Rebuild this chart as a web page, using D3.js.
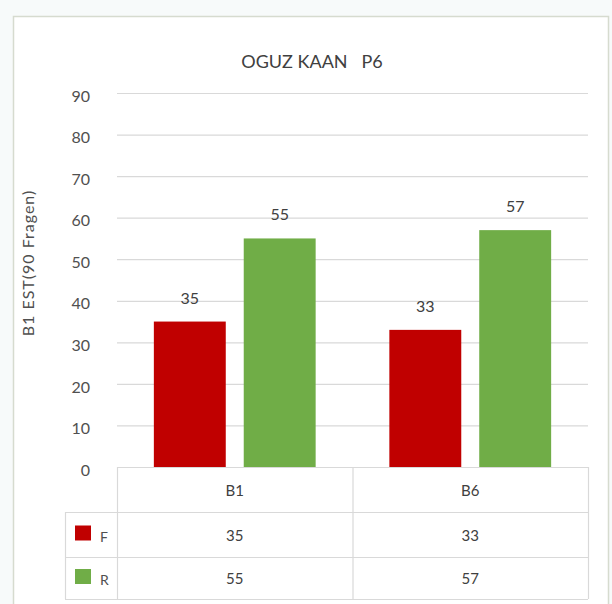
<!DOCTYPE html>
<html><head><meta charset="utf-8">
<script src="https://cdn.jsdelivr.net/npm/d3@7"></script>
<style>
html,body{margin:0;padding:0;background:#f7fafa;}
svg{display:block;}
text{font-family:Lato, "Open Sans", sans-serif;}
</style></head>
<body>
<script>
const categories = ["B1", "B6"];
const seriesNames = ["F", "R"];
const valuesF = [35, 33];
const valuesR = [55, 57];
const yTicks = [0, 10, 20, 30, 40, 50, 60, 70, 80, 90];
const title = "OGUZ KAAN   P6";
const yTitle = "B1 EST(90 Fragen)";
const colors = {F: "#C00000", R: "#70AD47"};

const series = [
  {name: seriesNames[0], values: valuesF},
  {name: seriesNames[1], values: valuesR}
];

const W = 612, H = 604;
const svg = d3.select("body").append("svg").attr("width", W).attr("height", H);

// chart frame
svg.append("rect").attr("x", 13.5).attr("y", 16.5).attr("width", 595).attr("height", 600)
  .attr("fill", "#fff").attr("stroke", "#d6dbcf").attr("stroke-width", 1.5);

const plotL = 117, plotR = 588, plotT = 93, plotB = 467;
const y = d3.scaleLinear().domain([0, 90]).range([plotB, plotT]);
const x0 = d3.scaleBand().domain(categories).range([plotL, plotR]);
const x1 = d3.scaleBand().domain(seriesNames).range([0, x0.bandwidth()]).paddingInner(0.2).paddingOuter(0.41);

// gridlines
svg.append("g").selectAll("line").data(yTicks.filter(d => d > 0)).join("line")
  .attr("x1", plotL).attr("x2", plotR)
  .attr("y1", d => y(d) + 0.5).attr("y2", d => y(d) + 0.5)
  .attr("stroke", "#d9d9d9").attr("stroke-width", 1.2);

// y axis labels
const yAxis = d3.axisLeft(y).tickValues(yTicks).tickSize(0).tickPadding(0);
const ga = svg.append("g").attr("transform", `translate(90,3)`).call(yAxis);
ga.select(".domain").remove();
ga.selectAll("text").attr("font-size", 16).attr("fill", "#505050").attr("font-family", "Lato, sans-serif");

// title
svg.append("text").attr("x", 312).attr("y", 68).attr("text-anchor", "middle")
  .attr("font-size", 18).attr("fill", "#404040").attr("xml:space", "preserve").style("white-space", "pre").text(title);

// y axis title
svg.append("text").attr("transform", "translate(34,263) rotate(-90)").attr("text-anchor", "middle")
  .attr("font-size", 16).attr("letter-spacing", 1).attr("fill", "#505050").text(yTitle);

// bars
const cat = svg.append("g").selectAll("g").data(categories).join("g")
  .attr("transform", d => `translate(${x0(d)},0)`);
cat.selectAll("rect").data((c, i) => series.map(s => ({name: s.name, v: s.values[i]}))).join("rect")
  .attr("x", d => x1(d.name)).attr("width", x1.bandwidth())
  .attr("y", d => y(d.v)).attr("height", d => y(0) - y(d.v))
  .attr("fill", d => colors[d.name]);
cat.selectAll("text.lbl").data((c, i) => series.map(s => ({name: s.name, v: s.values[i]}))).join("text")
  .attr("class", "lbl")
  .attr("x", d => x1(d.name) + x1.bandwidth() / 2).attr("y", d => y(d.v) - 18)
  .attr("text-anchor", "middle").attr("font-size", 16).attr("fill", "#404040").text(d => d.v);

// data table
const tblLeft = 65, rowH = [plotB, 512, 557, 599];
const lc = "#d9d9d9";
const tg = svg.append("g");
tg.append("line").attr("x1", plotL).attr("x2", plotR).attr("y1", rowH[0] + 0.5).attr("y2", rowH[0] + 0.5).attr("stroke", lc).attr("stroke-width", 1.2);
[rowH[1], rowH[2], rowH[3]].forEach(yy => {
  tg.append("line").attr("x1", tblLeft).attr("x2", plotR).attr("y1", yy + 0.5).attr("y2", yy + 0.5).attr("stroke", lc).attr("stroke-width", 1.2);
});
tg.append("line").attr("x1", tblLeft + 0.5).attr("x2", tblLeft + 0.5).attr("y1", rowH[1]).attr("y2", rowH[3]).attr("stroke", lc).attr("stroke-width", 1.2);
[plotL, x0(categories[1]), plotR].forEach(xx => {
  tg.append("line").attr("x1", xx + 0.5).attr("x2", xx + 0.5).attr("y1", rowH[0]).attr("y2", rowH[3]).attr("stroke", lc).attr("stroke-width", 1.2);
});
tg.selectAll("text.hdr").data(categories).join("text").attr("class", "hdr")
  .attr("x", d => x0(d) + x0.bandwidth() / 2).attr("y", (rowH[0] + rowH[1]) / 2 + 6)
  .attr("text-anchor", "middle").attr("font-size", 15).attr("fill", "#404040").text(d => d);
series.forEach((s, si) => {
  const yc = (rowH[si + 1] + rowH[si + 2]) / 2;
  tg.append("rect").attr("x", 75).attr("y", yc - 9).attr("width", 16).attr("height", 15).attr("fill", colors[s.name]);
  tg.append("text").attr("x", 100).attr("y", yc + 7).attr("font-size", 14).attr("fill", "#505050").text(s.name);
  tg.selectAll("text.v" + si).data(s.values).join("text").attr("class", "v" + si)
    .attr("x", (d, i) => x0(categories[i]) + x0.bandwidth() / 2).attr("y", yc + 6)
    .attr("text-anchor", "middle").attr("font-size", 15).attr("fill", "#404040").text(d => d);
});
</script>
</body></html>
